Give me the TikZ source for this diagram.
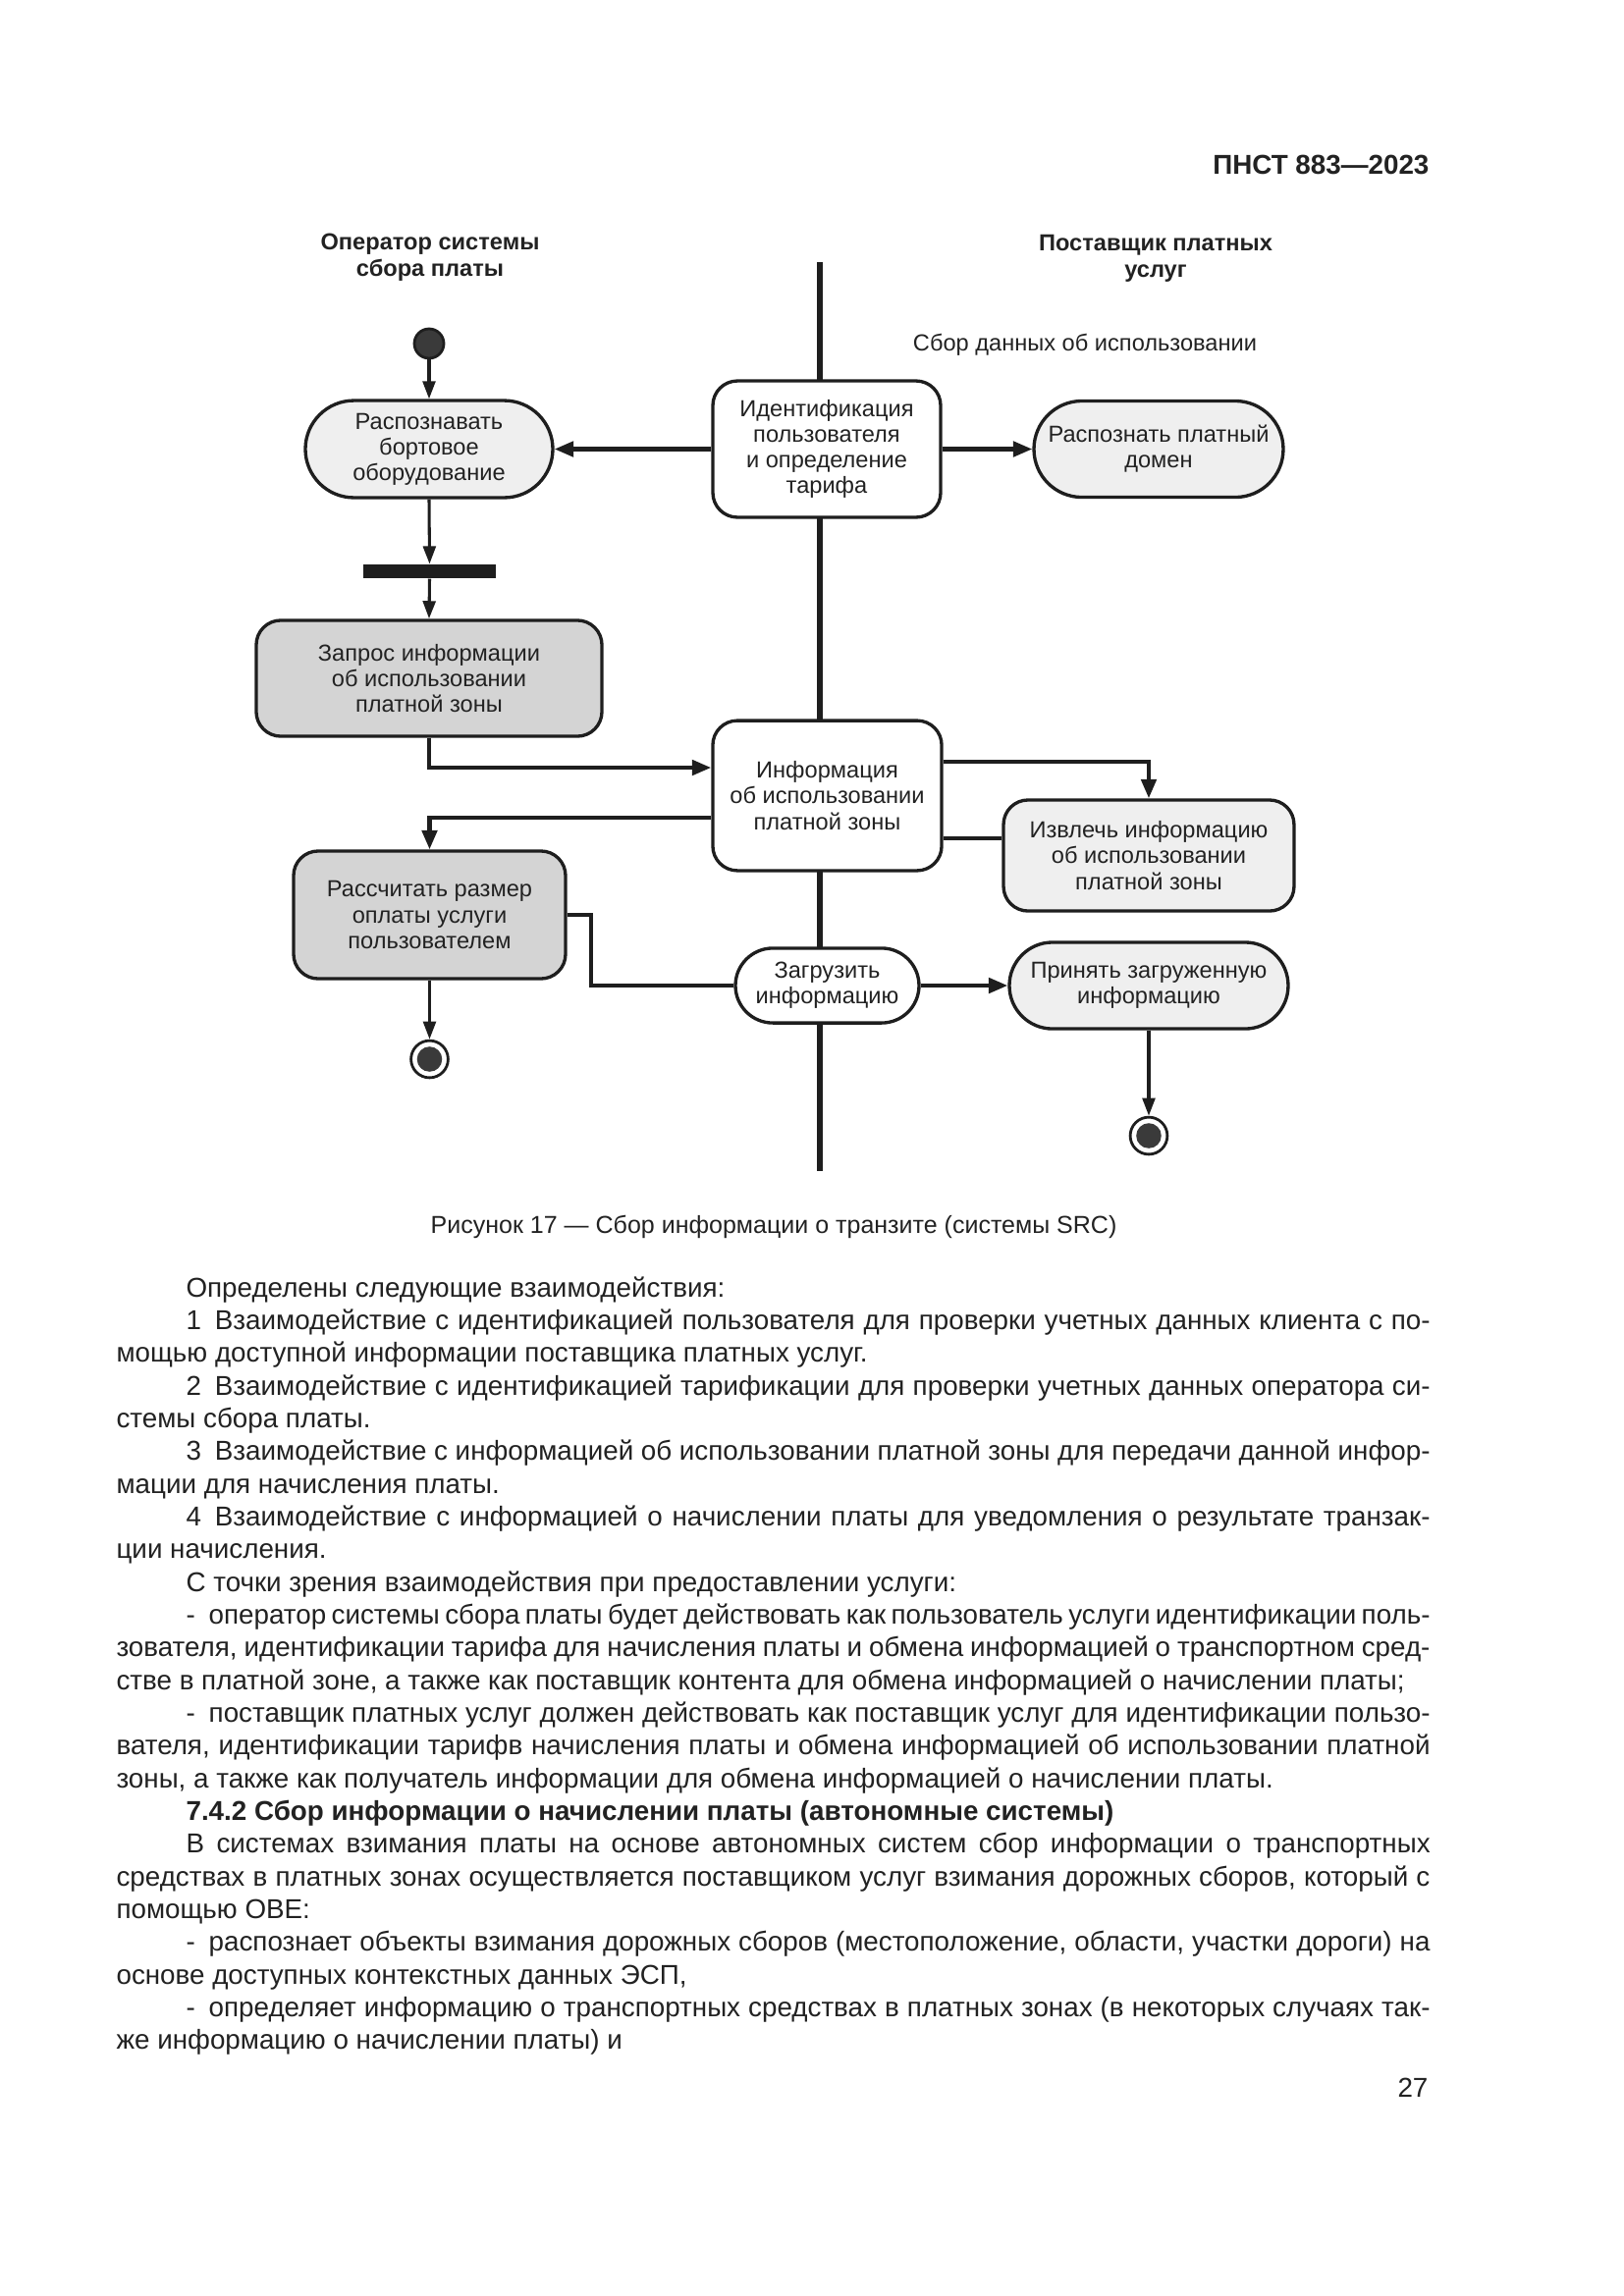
\documentclass[tikz,border=0pt]{standalone}
\usepackage{fontspec}
\setmainfont{Liberation Sans}
\usetikzlibrary{arrows.meta,calc}
\definecolor{ln}{HTML}{1E1E1E}
\definecolor{txt}{HTML}{222222}
\definecolor{lgray}{HTML}{EFEFEF}
\definecolor{mgray}{HTML}{D4D4D4}
\definecolor{dkg}{HTML}{3A3A3A}
\newcommand{\diafont}{\fontsize{8.5pt}{9.4pt}\selectfont}
\newcommand{\txtfont}{\fontsize{10pt}{12pt}\selectfont}
\newcommand{\jfull}[1]{\makebox[481.5pt][s]{#1}}
\newcommand{\jind}[1]{\makebox[456pt][s]{#1}}
\newcommand{\gapsp}{\hspace*{5pt}}
\begin{document}
\begin{tikzpicture}[x=0.35989pt,y=-0.35989pt,
  act/.style={draw=ln, line width=1.2pt, align=center, inner sep=0pt, font=\diafont, text=txt},
  conn/.style={draw=ln, line width=1.5pt, -{Triangle[length=7pt,width=5.5pt]}},
  plainconn/.style={draw=ln, line width=1.5pt},
  thinconn/.style={draw=ln, line width=1.1pt, -{Triangle[length=6.5pt,width=4.6pt]}},
  finalnode/.style={circle, draw=ln, line width=1pt, fill=white, minimum size=13.6pt, inner sep=0pt,
    path picture={\fill[dkg] (path picture bounding box.center) circle (4.6pt);}},
  lanehead/.style={font=\fontsize{8.5pt}{9.7pt}\selectfont\bfseries, align=center, text=txt},
  body/.style={anchor=base west, inner sep=0pt, font=\txtfont, text=txt}
]
\fill[white] (0,0) rectangle (1654,2339);
\useasboundingbox (0,0) rectangle (1654,2339);

% header
\node[anchor=base east, inner sep=0pt, font=\txtfont\bfseries, text=txt] (hdr) at (1456,177) {ПНСТ 883—2023};

% lane headings
\node[lanehead] (hL) at (438,262) {Оператор системы\\сбора платы};
\node[lanehead] (hR) at (1177,263) {Поставщик платных\\услуг};
\node[anchor=base, font=\diafont, text=txt, inner sep=0pt] (sub) at (1105,357) {Сбор данных об использовании};

% swimlane divider
\coordinate (laneT) at (835,267);
\coordinate (laneB) at (835,1193);
\draw[ln, line width=2.2pt] (laneT) -- (laneB);

% nodes
\node[circle, draw=ln, fill=dkg, line width=1pt, minimum size=10.8pt, inner sep=0pt] (init) at (437,350) {};
\node[act, fill=lgray, minimum width=90.7pt, minimum height=35.6pt, rounded corners=17.8pt] (rec) at (437,457.5) {Распознавать\\бортовое\\оборудование};
\node[act, fill=white, minimum width=83.5pt, minimum height=50pt, rounded corners=9pt] (ident) at (842,457.5) {Идентификация\\пользователя\\и определение\\тарифа};
\node[act, fill=lgray, minimum width=91.4pt, minimum height=35.3pt, rounded corners=17.6pt] (dom) at (1180,457.5) {Распознать платный\\домен};
\node[fill=ln, minimum width=48.6pt, minimum height=5pt, inner sep=0pt] (bar) at (437.5,582) {};
\node[act, fill=mgray, minimum width=126.7pt, minimum height=42.5pt, rounded corners=9pt] (req) at (437,691) {Запрос информации\\об использовании\\платной зоны};
\node[act, fill=white, minimum width=83.9pt, minimum height=55pt, rounded corners=9pt] (info) at (842.5,810.5) {Информация\\об использовании\\платной зоны};
\node[act, fill=lgray, minimum width=106.5pt, minimum height=40.7pt, rounded corners=9pt] (extr) at (1170,871.5) {Извлечь информацию\\об использовании\\платной зоны};
\node[act, fill=mgray, minimum width=99.7pt, minimum height=46.8pt, rounded corners=9pt] (calc) at (437.5,932) {Рассчитать размер\\оплаты услуги\\пользователем};
\node[act, fill=white, minimum width=67.3pt, minimum height=27.4pt, rounded corners=13.7pt] (load) at (842.5,1004) {Загрузить\\информацию};
\node[act, fill=lgray, minimum width=102.2pt, minimum height=31.7pt, rounded corners=15.8pt] (acc) at (1170,1004) {Принять загруженную\\информацию};
\node[finalnode] (finL) at (437.5,1079) {};
\node[finalnode] (finR) at (1170,1157) {};

% connectors
\draw[thinconn] (init.south) -- (rec.north);
\draw[conn] (ident.west) -- (rec.east);
\draw[conn] (ident.east) -- (dom.west);
\draw[thinconn] (rec.south) -- (bar.north);
\draw[thinconn] (bar.south) -- (req.north);
\draw[conn] (req.south) |- ($(info.west)+(0,-28.5)$);
\draw[conn] ($(info.east)+(0,-34.5)$) -| (extr.north);
\draw[plainconn] ($(extr.west)+(0,-17.5)$) -- ($(info.east)+(0,43.5)$);
\draw[conn] ($(info.west)+(0,22.5)$) -| (calc.north);
\draw[plainconn] (calc.east) -- ++(24,0) |- (load.west);
\draw[conn] (load.east) -- (acc.west);
\draw[thinconn] (acc.south) -- (finR.north);
\draw[thinconn] (calc.south) -- (finL.north);

% caption
\node[anchor=base, inner sep=0pt, font=\fontsize{9pt}{11pt}\selectfont, text=txt] (cap) at (788,1256) {Рисунок 17 — Сбор информации о транзите (системы SRC)};

% body text
\node[body] (l1) at (189,1321) {Определены следующие взаимодействия:};
\node[body] (l2) at (189,1354.3) {\jind{1\gapsp Взаимодействие с идентификацией пользователя для проверки учетных данных клиента с по-}};
\node[body] (l3) at (118,1387.7) {мощью доступной информации поставщика платных услуг.};
\node[body] (l4) at (189,1421) {\jind{2\gapsp Взаимодействие с идентификацией тарификации для проверки учетных данных оператора си-}};
\node[body] (l5) at (118,1454.3) {стемы сбора платы.};
\node[body] (l6) at (189,1487.7) {\jind{3\gapsp Взаимодействие с информацией об использовании платной зоны для передачи данной инфор-}};
\node[body] (l7) at (118,1521) {мации для начисления платы.};
\node[body] (l8) at (189,1554.3) {\jind{4\gapsp Взаимодействие с информацией о начислении платы для уведомления о результате транзак-}};
\node[body] (l9) at (118,1587.7) {ции начисления.};
\node[body] (l10) at (189,1621) {С точки зрения взаимодействия при предоставлении услуги:};
\node[body] (l11) at (189,1654.3) {\jind{-\gapsp оператор системы сбора платы будет действовать как пользователь услуги идентификации поль-}};
\node[body] (l12) at (118,1687.7) {\jfull{зователя, идентификации тарифа для начисления платы и обмена информацией о транспортном сред-}};
\node[body] (l13) at (118,1721) {стве в платной зоне, а также как поставщик контента для обмена информацией о начислении платы;};
\node[body] (l14) at (189,1754.3) {\jind{-\gapsp поставщик платных услуг должен действовать как поставщик услуг для идентификации пользо-}};
\node[body] (l15) at (118,1787.7) {\jfull{вателя, идентификации тарифв начисления платы и обмена информацией об использовании платной}};
\node[body] (l16) at (118,1821) {зоны, а также как получатель информации для обмена информацией о начислении платы.};
\node[body, font=\txtfont\bfseries] (l17) at (189,1854.3) {7.4.2 Сбор информации о начислении платы (автономные системы)};
\node[body] (l18) at (189,1887.7) {\jind{В системах взимания платы на основе автономных систем сбор информации о транспортных}};
\node[body] (l19) at (118,1921) {\jfull{средствах в платных зонах осуществляется поставщиком услуг взимания дорожных сборов, который с}};
\node[body] (l20) at (118,1954.3) {помощью OBE:};
\node[body] (l21) at (189,1987.7) {\jind{-\gapsp распознает объекты взимания дорожных сборов (местоположение, области, участки дороги) на}};
\node[body] (l22) at (118,2021) {основе доступных контекстных данных ЭСП,};
\node[body] (l23) at (189,2054.3) {\jind{-\gapsp определяет информацию о транспортных средствах в платных зонах (в некоторых случаях так-}};
\node[body] (l24) at (118,2087.7) {же информацию о начислении платы) и};

% page number
\node[anchor=base east, inner sep=0pt, font=\txtfont, text=txt] (pg) at (1455,2136) {27};
\end{tikzpicture}
\end{document}
